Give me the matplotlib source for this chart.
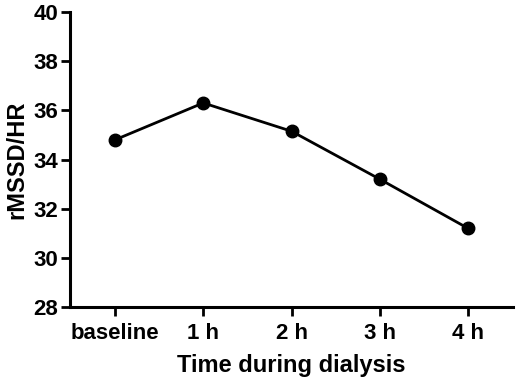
import matplotlib
matplotlib.use("Agg")
import matplotlib.pyplot as plt

# data
categories = ["baseline", "1 h", "2 h", "3 h", "4 h"]
values = [34.8, 36.3, 35.15, 33.2, 31.2]
yticks = [28, 30, 32, 34, 36, 38, 40]

plt.rcParams["font.family"] = ["Liberation Sans", "DejaVu Sans"]
plt.rcParams["font.weight"] = "bold"

fig = plt.figure(figsize=(5.2, 3.83), dpi=100)
ax = fig.add_axes([0.1346, 0.1984, 0.852, 0.7703])

x = list(range(len(categories)))
ax.plot(x, values, color="black", linewidth=2, marker="o", markersize=9, clip_on=False)

ax.set_xlim(-0.51, 4.51)
ax.set_ylim(28, 40)
ax.set_xticks(x)
ax.set_xticklabels(categories)
ax.set_yticks(yticks)

for side in ["top", "right"]:
    ax.spines[side].set_visible(False)
for side in ["left", "bottom"]:
    ax.spines[side].set_linewidth(2.2)

ax.tick_params(axis="both", direction="out", length=6.5, width=2, labelsize=16)
ax.tick_params(axis="y", pad=2)
ax.tick_params(axis="x", pad=5)
for lab in ax.get_xticklabels() + ax.get_yticklabels():
    lab.set_fontweight("bold")

ax.set_xlabel("Time during dialysis", fontsize=17, fontweight="bold", labelpad=7)
ax.set_ylabel("rMSSD/HR", fontsize=17, fontweight="bold", labelpad=4)

fig.savefig("out.png", dpi=100)
